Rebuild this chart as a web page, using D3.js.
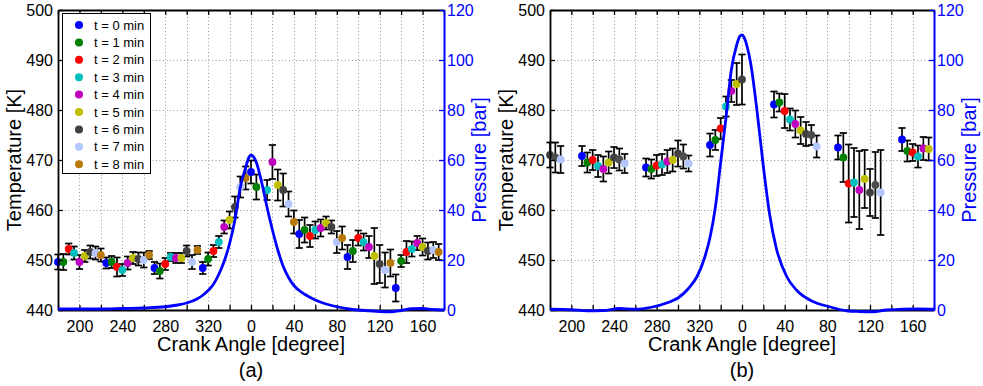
<!DOCTYPE html>
<html><head><meta charset="utf-8">
<script src="https://cdn.jsdelivr.net/npm/d3@7"></script>
<style>
html,body{margin:0;padding:0;background:#fff;}
svg{display:block;font-family:"Liberation Sans",Arial,sans-serif;}
</style></head>
<body>
<svg id="chart" width="983" height="386"></svg>
<script>
// ---------- DATA ----------
const seriesLabels = ["t = 0 min","t = 1 min","t = 2 min","t = 3 min","t = 4 min","t = 5 min","t = 6 min","t = 7 min","t = 8 min"];
const seriesColors = ["#0000ff","#008000","#ff0000","#00bfbf","#bf00bf","#bfbf00","#404040","#b3c6ff","#b8790b"];
const seriesColorsB = ["#0000ff","#008000","#ff0000","#00bfbf","#bf00bf","#bfbf00","#404040","#4d4d4d","#b3c6ff"];

const xTickValues = [-160,-120,-80,-40,0,40,80,120,160];
const xTickLabels = ["200","240","280","320","0","40","80","120","160"];
const tempTicks = [440,450,460,470,480,490,500];
const pressTicks = [0,20,40,60,80,100,120];

// Panel (a)
const crankA = [-180,-175,-170,-165,-160,-155,-150,-145,-140,
  -135,-130,-125,-120,-115,-110,-105,-100,-95,
  -90,-85,-80,-75,-70,-65,-60,-55,-50,
  -45,-40,-35,-30,-25,-20,-15,-10,-5,
  0,5,15,20,25,30,35,40,
  45,50,55,60,65,70,75,80,85,
  90,95,100,105,110,115,120,125,130,
  135,140,145,150,155,160,165,170,175];
const seriesA = [0,1,2,3,4,5,6,7,8, 0,1,2,3,4,5,6,7,8, 0,1,2,3,4,5,6,7,8, 0,1,2,3,4,5,6,7,8,
  0,1,3,4,5,6,7,8, 0,1,2,3,4,5,6,7,8, 0,1,2,3,4,5,6,7,8, 0,1,2,3,4,5,6,7,8];
const tempA = [449.6,449.6,452.2,451.4,449.6,450.8,451.6,451.4,451.0,
  449.4,449.6,448.6,448.0,449.4,450.4,450.2,450.0,451.0,
  448.4,447.8,449.2,450.6,450.4,450.4,451.8,449.6,452.0,
  448.4,450.2,451.8,453.6,456.6,458.0,460.6,464.6,466.4,
  467.6,464.6,464.0,469.6,465.0,464.0,461.2,457.6,
  455.2,456.0,454.8,456.0,456.4,457.4,456.6,453.6,454.4,
  450.6,451.8,454.4,453.6,452.6,450.8,449.2,448.0,449.4,
  444.4,449.8,451.6,452.2,453.4,452.6,451.8,452.0,451.6];
const errA = [1.5,1.6,1.1,1.3,1.4,1.2,1.3,1.3,1.3,
  1.1,1.2,1.9,1.2,1.3,1.2,1.3,1.5,0.8,
  1.2,1.5,1.2,0.8,1.0,1.0,1.1,1.4,0.8,
  1.2,1.3,1.2,1.2,1.3,1.7,2.1,2.1,2.3,
  2.3,2.5,2.0,3.4,3.1,3.3,2.5,2.3,
  2.8,2.5,2.2,1.7,1.7,1.3,1.3,2.2,2.3,
  2.4,2.2,1.5,1.7,2.2,5.6,3.8,3.5,2.7,
  2.7,1.2,2.2,1.5,1.4,1.7,1.7,1.6,1.6];
const pAngleA = [-180,-160,-140,-120,-100,-80,-70,-60,-50,-45,-40,-35,-30,-25,-20,-15,-10,-5,-2,0,2,5,10,15,20,25,30,35,40,45,50,60,70,80,90,100,110,120,130,140,150,160,170,180];
const pressA = [0.4,0.4,0.4,0.6,0.8,1.3,1.9,2.8,4.5,5.9,7.8,10.3,14.3,19.5,26.5,36,49,57,61,62,61.5,59,51,41,32,24,17.5,13,9.8,7.8,6.3,4,2.4,1.3,0.5,0,-0.3,-0.6,-0.7,-0.2,0.5,0.6,0.2,0];

// Panel (b)
const crankB = [-180,-175,-170,
  -150,-145,-140,-135,-130,-125,-120,-115,-110,
  -90,-85,-80,-75,-70,-65,-60,-55,-50,
  -30,-25,-20,-15,-10,-5,0,
  30,35,40,45,50,55,60,65,70,
  90,95,100,105,110,115,120,125,130,
  150,155,160,165,170,175];
const seriesB = [6,7,8, 0,1,2,3,4,5,6,7,8, 0,1,2,3,4,5,6,7,8, 0,1,2,3,4,5,6,
  0,1,2,3,4,5,6,7,8, 0,1,2,3,4,5,6,7,8, 0,1,2,3,4,5];
const tempB = [471.0,470.5,470.1,
  470.8,469.5,470.0,468.8,468.2,469.5,470.5,470.1,469.3,
  468.5,468.2,468.9,469.1,469.7,470.0,471.3,470.7,469.3,
  473.0,474.0,476.3,480.7,483.8,485.2,486.1,
  481.1,481.5,479.8,478.1,477.2,475.9,475.2,475.0,472.7,
  472.5,470.5,465.3,465.5,464.0,466.2,463.5,465.0,463.5,
  474.1,471.8,471.5,470.7,472.3,472.2];
const errB = [2.5,3.0,2.7,
  2.0,2.0,2.0,2.2,2.5,2.2,2.1,2.2,1.9,
  1.8,1.9,2.1,2.1,2.3,2.3,2.6,2.4,1.6,
  2.3,2.0,2.1,2.0,2.2,4.2,5.0,
  2.6,1.8,3.4,2.2,2.7,2.7,2.4,2.0,2.2,
  2.4,4.9,7.8,6.9,7.8,5.8,4.7,6.6,8.5,
  2.3,2.1,1.7,2.2,2.3,2.3];
const pAngleB = [-180,-160,-145,-130,-115,-100,-85,-70,-60,-50,-42,-35,-30,-25,-20,-15,-10,-5,-2,0,2,5,8,14,20,26,32,42,51,67,82,98,110,123,135,150,165,180];
const pressB = [0.3,0.1,-0.3,-0.2,0.6,0.3,1.1,2.9,4.8,8.7,13.5,21,29,41,59,77,96,106,109.5,110,109,105,99,80,57.5,38,25,13.3,8,3.3,1.3,-0.3,-0.6,-0.7,0,0.3,0.4,0.3];

// ---------- DRAW ----------
const svg = d3.select("#chart");
const plotTop = 10, plotBottom = 310;

function panel(opt){
  const g = svg.append("g");
  const x = d3.scaleLinear().domain([-180,180]).range([opt.x0, opt.x1]);
  const yT = d3.scaleLinear().domain([440,500]).range([plotBottom, plotTop]);
  const yP = d3.scaleLinear().domain([0,120]).range([plotBottom, plotTop]);
  const allX = d3.range(-180,181,20);

  // grid
  const grid = g.append("g").attr("stroke","#999").attr("stroke-width",1).attr("stroke-dasharray","1,2.5");
  grid.selectAll("line.v").data(allX.slice(1,-1)).join("line").attr("class","v")
    .attr("x1",d=>Math.round(x(d))+0.5).attr("x2",d=>Math.round(x(d))+0.5).attr("y1",plotTop).attr("y2",plotBottom);
  grid.selectAll("line.h").data(tempTicks.slice(1,-1)).join("line").attr("class","h")
    .attr("y1",d=>Math.round(yT(d))+0.5).attr("y2",d=>Math.round(yT(d))+0.5).attr("x1",opt.x0).attr("x2",opt.x1);

  const pts = opt.crank.map((a,i)=>({a, t:opt.temp[i], e:opt.err[i], s:opt.series[i]}));
  // error bars
  const eb = g.append("g").attr("stroke","#000").attr("stroke-width",1.7).attr("fill","none");
  pts.forEach(p=>{
    const cx = x(p.a), y1 = yT(p.t+p.e), y2 = yT(p.t-p.e);
    eb.append("line").attr("x1",cx).attr("x2",cx).attr("y1",y1).attr("y2",y2);
    eb.append("line").attr("x1",cx-3.6).attr("x2",cx+3.6).attr("y1",y1).attr("y2",y1);
    eb.append("line").attr("x1",cx-3.6).attr("x2",cx+3.6).attr("y1",y2).attr("y2",y2);
  });
  g.append("g").selectAll("circle").data(pts).join("circle")
    .attr("cx",d=>x(d.a)).attr("cy",d=>yT(d.t)).attr("r",3.9)
    .attr("fill",d=>opt.colors[d.s]);

  // axes (temperature)
  const fmt = d => { const i = xTickValues.indexOf(d); return i>=0 ? xTickLabels[i] : ""; };
  const axB = g.append("g").attr("transform",`translate(0,${plotBottom})`)
    .call(d3.axisBottom(x).tickValues(allX).tickSize(-5).tickSizeOuter(0).tickPadding(10.5).tickFormat(fmt));
  const axT = g.append("g").attr("transform",`translate(0,${plotTop})`)
    .call(d3.axisTop(x).tickValues(allX).tickSize(-5).tickSizeOuter(0).tickFormat(""));
  const axL = g.append("g").attr("transform",`translate(${opt.x0},0)`)
    .call(d3.axisLeft(yT).tickValues(tempTicks).tickSize(-5).tickSizeOuter(0).tickPadding(5).tickFormat(d3.format("d")));
  [axB,axT,axL].forEach(a=>{
    a.select(".domain").attr("stroke","#000").attr("stroke-width",1.8);
    a.selectAll(".tick line").attr("stroke","#000").attr("stroke-width",1.3);
    a.selectAll(".tick text").attr("fill","#000").style("font-size","16px").style("font-family","'Liberation Sans',Arial,sans-serif");
  });
  axL.selectAll(".tick text").attr("dy","0.35em");

  // pressure curve
  const line = d3.line().x((d,i)=>x(opt.pAngle[i])).y(d=>yP(d)).curve(d3.curveMonotoneX);
  g.append("path").datum(opt.press).attr("d",line).attr("fill","none").attr("stroke","#0000ff").attr("stroke-width",2.8)
   .attr("stroke-linejoin","round");

  const axR = g.append("g").attr("transform",`translate(${opt.x1},0)`)
    .call(d3.axisRight(yP).tickValues(pressTicks).tickSize(-5).tickSizeOuter(0).tickPadding(3).tickFormat(d3.format("d")));
  axR.select(".domain").attr("stroke","#0000ff").attr("stroke-width",2);
  axR.selectAll(".tick line").attr("stroke","#0000ff").attr("stroke-width",1.3);
  axR.selectAll(".tick text").attr("fill","#0000ff").attr("dy","0.35em").style("font-size","16px").style("font-family","'Liberation Sans',Arial,sans-serif");

  // titles
  const cx = (opt.x0+opt.x1)/2;
  g.append("text").attr("x",cx).attr("y",351).attr("text-anchor","middle").style("font-size","20px").attr("fill","#000").text("Crank Angle [degree]");
  g.append("text").attr("x",cx).attr("y",377).attr("text-anchor","middle").style("font-size","20px").attr("fill","#000").text(opt.tag);
  g.append("text").attr("transform",`translate(${opt.x0-37},${(plotTop+plotBottom)/2}) rotate(-90)`).attr("text-anchor","middle")
    .style("font-size","20px").attr("fill","#000").text("Temperature [K]");
  g.append("text").attr("transform",`translate(${opt.x1+42},${(plotTop+plotBottom)/2}) rotate(-90)`).attr("text-anchor","middle")
    .style("font-size","20px").attr("fill","#0000ff").text("Pressure [bar]");

  if(opt.legend){
    const lg = g.append("g");
    lg.append("rect").attr("x",62.5).attr("y",13.5).attr("width",88).attr("height",160).attr("fill","#fff").attr("stroke","#000").attr("stroke-width",1);
    seriesLabels.forEach((lab,i)=>{
      const yy = 25 + i*17.4;
      lg.append("circle").attr("cx",79).attr("cy",yy).attr("r",4).attr("fill",seriesColors[i]);
      lg.append("text").attr("x",94).attr("y",yy+4.6).style("font-size","13px").attr("fill","#000").text(lab);
    });
  }
}

panel({x0:58, x1:444, crank:crankA, temp:tempA, err:errA, series:seriesA, colors:seriesColors, pAngle:pAngleA, press:pressA, tag:"(a)", legend:true});
panel({x0:550, x1:934, crank:crankB, temp:tempB, err:errB, series:seriesB, colors:seriesColorsB, pAngle:pAngleB, press:pressB, tag:"(b)", legend:false});
</script>
</body></html>
